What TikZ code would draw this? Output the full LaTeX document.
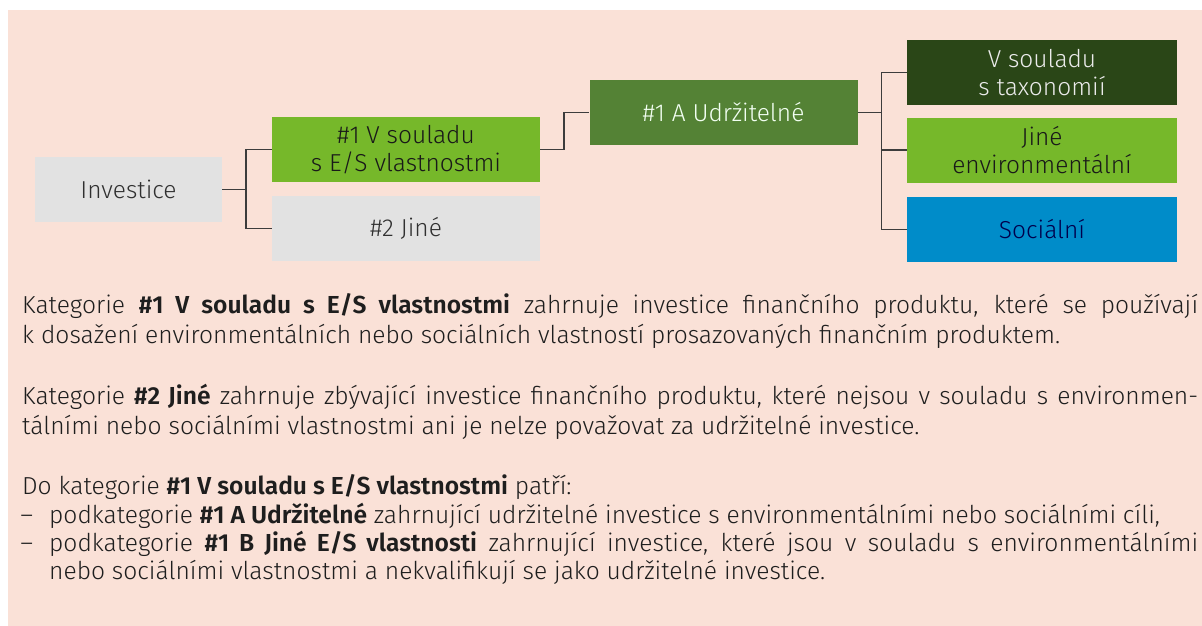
\documentclass[tikz,border=0pt]{standalone}
\usepackage{fontspec}
\setmainfont{Fira Sans}[UprightFont=* Light,BoldFont=* SemiBold]
\setlength{\parindent}{0pt}
\hyphenpenalty=10000
\exhyphenpenalty=10000
\tolerance=9999

\definecolor{pinkbg}{HTML}{FAE1D7}
\definecolor{grayb}{HTML}{E2E2E2}
\definecolor{limeg}{HTML}{76B82A}
\definecolor{midg}{HTML}{548235}
\definecolor{deepg}{HTML}{2A4617}
\definecolor{blueb}{HTML}{008CC9}
\definecolor{linkgray}{HTML}{3C3C3C}
\definecolor{bodytext}{HTML}{1E1E1E}
\definecolor{darktext}{HTML}{303030}

\begin{document}
\begin{tikzpicture}[x=1pt,y=-1pt,
    box/.style={minimum width=268pt,minimum height=65pt,inner sep=0pt,align=center,
      font=\fontsize{24.5}{28}\selectfont},
    link/.style={draw=linkgray,line width=1.5pt},
    para/.style={anchor=base west,inner sep=0pt,text width=1176pt,align=justify,
      text=bodytext,font=\fontsize{24.6}{30}\selectfont}]
  \useasboundingbox (0,0) rectangle (1202,626);
  \fill[pinkbg] (8,10) rectangle (1202,626);

  % tree of categories
  \node[box,fill=grayb,minimum width=187pt,text=darktext] (inv) at (128.5,189.5) {Investice};
  \node[box,fill=limeg,text=black!90] (es) at (406,149.5) {\#1 V souladu\\s E/S vlastnostmi};
  \node[box,fill=grayb,text=darktext] (other) at (406,228.5) {\#2 Jiné};
  \node[box,fill=midg,text=white!95!green] (sust) at (723.5,112.5) {\#1 A Udržitelné};
  \node[box,fill=deepg,minimum width=270pt,text=white!92!black] (tax) at (1042,72.5) {V souladu\\s taxonomií};
  \node[box,fill=limeg,minimum width=270pt,text=black!90] (env) at (1042,150) {Jiné\\environmentální};
  \node[box,fill=blueb,minimum width=270pt,text=blue!30!black] (soc) at (1042,229.5) {Sociální};

  \draw[link] (inv.east) -- ++(24,0) |- (es.west);
  \draw[link] (inv.east) -- ++(24,0) |- (other.west);
  \draw[link] (es.east) -- ++(24,0) |- (sust.west);
  \foreach \n in {tax,env,soc}
    \draw[link] (sust.east) -- ++(24,0) |- (\n.west);

  % explanations
  \node[para] (cat1) at (22,313) {Kategorie \textbf{\#1 V souladu s E/S vlastnostmi} zahrnuje investice finančního produktu, které se používají\linebreak k dosažení environmentálních nebo sociálních vlastností prosazovaných finančním produktem.};
  \node[para] (cat2) at (22,404) {Kategorie \textbf{\#2 Jiné} zahrnuje zbývající investice finančního produktu, které nejsou v souladu s environmen-\linebreak tálními nebo sociálními vlastnostmi ani je nelze považovat za udržitelné investice.};
  \node[para] (cat3) at (22,494) {Do kategorie \textbf{\#1 V souladu s E/S vlastnostmi} patří:};
  \node[para,text width=1149pt,font=\fontsize{24.6}{28}\selectfont] (items) at (49,523)
    {\leavevmode\llap{–\hskip16pt}podkategorie \textbf{\#1 A Udržitelné} zahrnující udržitelné investice s environmentálními nebo sociálními cíli,\par
     \leavevmode\llap{–\hskip16pt}podkategorie \textbf{\#1 B Jiné E/S vlastnosti} zahrnující investice, které jsou v souladu s environmentálními\linebreak nebo sociálními vlastnostmi a nekvalifikují se jako udržitelné investice.};
\end{tikzpicture}
\end{document}
